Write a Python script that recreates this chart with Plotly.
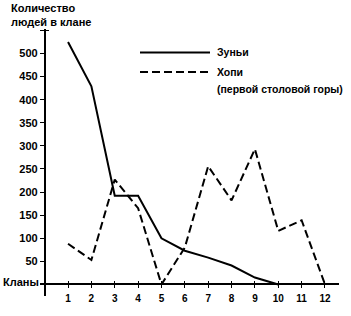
import plotly.graph_objects as go

clans = list(range(1, 13))
zuni = [525, 429, 192, 192, 100, 73, 58, 41, 15, 0, None, None]
hopi = [88, 53, 227, 165, 0, 80, 256, 182, 293, 116, 139, 0]
y_ticks = [50, 100, 150, 200, 250, 300, 350, 400, 450, 500]
x_ticks = clans

W, H = 351, 316
L, R, T, B = 40, 12, 29, 14
XR = [-0.2, 12.6]
YR = [-25, 553]

def xp(px):
    return (px - L) / (W - L - R)

def yp(py):
    return (H - B - py) / (H - T - B)

font = dict(family="Liberation Sans, Arial, sans-serif", color="black", size=11, weight="bold")
legfont = dict(family="Liberation Sans, Arial, sans-serif", color="black", size=10.5, weight="bold")

fig = go.Figure()
fig.add_trace(go.Scatter(x=clans, y=zuni, mode="lines", line=dict(color="black", width=2),
                         name="Зуньи", showlegend=False))
fig.add_trace(go.Scatter(x=clans, y=hopi, mode="lines", line=dict(color="black", width=2, dash="8px,4px"),
                         name="Хопи", showlegend=False))
# dummy trace for overlay axes (crossing ticks)
fig.add_trace(go.Scatter(x=[None], y=[None], xaxis="x2", yaxis="y2", showlegend=False, hoverinfo="skip"))

xpos = (0 - YR[0]) / (YR[1] - YR[0])
ypos = (0 - XR[0]) / (XR[1] - XR[0])

common_x = dict(range=XR, tickvals=x_ticks, showgrid=False, zeroline=False, anchor="free", position=xpos)
common_y = dict(range=YR, showgrid=False, zeroline=False, anchor="free", position=ypos)

fig.update_layout(
    width=W, height=H, margin=dict(l=L, r=R, t=T, b=B),
    plot_bgcolor="white", paper_bgcolor="white",
    font=font,
    xaxis=dict(**common_x, showline=True, linecolor="black", linewidth=1.5,
               ticks="outside", ticklen=3, tickwidth=1.2, tickcolor="black", ticklabelstandoff=2,
               ticktext=[str(c) for c in x_ticks], tickfont=dict(size=10, family=font["family"], weight="bold")),
    xaxis2=dict(**common_x, overlaying="x", showline=False, ticks="inside", ticklen=3,
                tickwidth=1.2, tickcolor="black", showticklabels=False),
    yaxis=dict(**common_y, tickvals=y_ticks + [550], ticktext=[str(v) for v in y_ticks] + [""],
               showline=True, linecolor="black", linewidth=1.5,
               ticks="outside", ticklen=4, tickwidth=1.2, tickcolor="black",
               tickfont=dict(size=11, family=font["family"], weight="bold")),
    yaxis2=dict(**common_y, overlaying="y", tickvals=[550], showline=False, ticks="inside", ticklen=3,
                tickwidth=1.2, tickcolor="black", showticklabels=False),
)

# legend (drawn manually)
fig.add_shape(type="line", xref="paper", yref="paper", x0=xp(140), x1=xp(210), y0=yp(53), y1=yp(53),
              line=dict(color="black", width=2))
fig.add_shape(type="line", xref="paper", yref="paper", x0=xp(140), x1=xp(210), y0=yp(73), y1=yp(73),
              line=dict(color="black", width=2, dash="8px,4px"))
fig.add_annotation(xref="paper", yref="paper", x=xp(215), y=yp(53), text="Зуньи", showarrow=False,
                   xanchor="left", yanchor="middle", font=legfont)
fig.add_annotation(xref="paper", yref="paper", x=xp(215), y=yp(73), text="Хопи", showarrow=False,
                   xanchor="left", yanchor="middle", font=legfont)
fig.add_annotation(xref="paper", yref="paper", x=xp(215), y=yp(90), text="(первой столовой горы)",
                   showarrow=False, xanchor="left", yanchor="middle", font=legfont)
# axis titles
fig.add_annotation(xref="paper", yref="paper", x=xp(9), y=yp(15), text="Количество<br>людей в клане",
                   showarrow=False, xanchor="left", yanchor="middle", align="left", font=font)
fig.add_annotation(xref="paper", yref="paper", x=xp(41), y=yp(288), text="Кланы",
                   showarrow=False, xanchor="right", yanchor="middle", font=font)

fig.write_html("out.html")
